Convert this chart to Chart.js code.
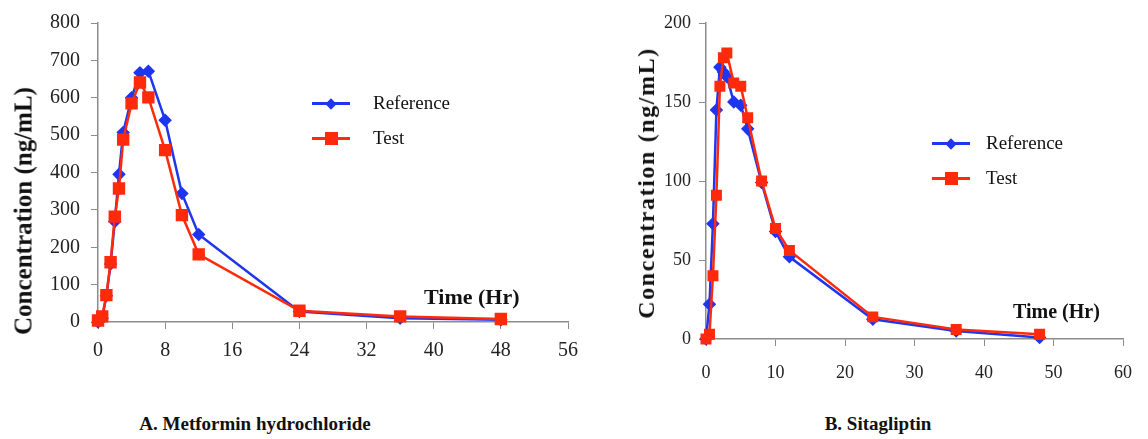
<!DOCTYPE html>
<html>
<head>
<meta charset="utf-8">
<script src="https://cdn.jsdelivr.net/npm/chart.js@4.4.1/dist/chart.umd.min.js"></script>
<style>
  body { margin: 0; background: #fff; font-family: "Liberation Serif", serif; }
  #wrap { position: relative; width: 1148px; height: 439px; overflow: hidden; }
  canvas { position: absolute; top: 0; }
  .lbl { position: absolute; white-space: nowrap; color: #111; }
  .time { font-weight: bold; font-size: 22px; }
  .cap { font-weight: bold; font-size: 19px; transform: translateX(-50%); }
  .ytitle { font-weight: bold; transform: translate(-50%, -50%) rotate(-90deg); line-height: 1; }
  .leg { position: absolute; font-size: 19px; color: #111; }
  .leg .row { position: relative; height: 35px; }
  .leg .line { position: absolute; top: 50%; height: 3px; margin-top: -1.5px; }
  .leg .mk { position: absolute; top: 50%; }
  .leg .txt { position: absolute; top: 50%; transform: translateY(-55%); }
</style>
</head>
<body>
<div id="wrap">
  <canvas id="chartA" width="600" height="375" style="left:0;width:600px;height:375px"></canvas>
  <canvas id="chartB" width="528" height="395" style="left:620px;width:528px;height:395px"></canvas>
  <div class="lbl ytitle" style="left:23px;top:211px;font-size:25px">Concentration (ng/mL)</div>
  <div class="lbl ytitle" style="left:646px;top:183px;font-size:24px;letter-spacing:1.6px">Concentration (ng/mL)</div>
  <div id="legA" class="leg" style="left:312px;top:86px"></div>
  <div id="legB" class="leg" style="left:932px;top:126px"></div>
  <div class="lbl time" style="left:424px;top:284px">Time (Hr)</div>
  <div class="lbl time" style="left:1013px;top:300px;font-size:20px">Time (Hr)</div>
  <div class="lbl cap" style="left:255px;top:413px">A. Metformin hydrochloride</div>
  <div class="lbl cap" style="left:878px;top:413px">B. Sitagliptin</div>
</div>
<script>
// Metformin hydrochloride (ng/mL) vs time (hr)
var metTime = [0, 0.5, 1, 1.5, 2, 2.5, 3, 4, 5, 6, 8, 10, 12, 24, 36, 48];
var metRef  = [0, 10, 70, 155, 269, 395, 507, 600, 667, 671, 540, 344, 234, 28, 10, 6];
var metTest = [4, 15, 72, 160, 282, 357, 488, 585, 641, 601, 460, 286, 181, 30, 15, 8];

// Sitagliptin (ng/mL) vs time (hr)
var sitTime = [0, 0.5, 1, 1.5, 2, 2.5, 3, 4, 5, 6, 8, 10, 12, 24, 36, 48];
var sitRef  = [0, 22, 73, 145, 172, 169, 166, 150, 148, 133, 99, 68, 52, 12.5, 5, 1];
var sitTest = [0, 3, 40, 91, 160, 178, 181, 162, 160, 140, 100, 70, 56, 14, 6, 3];

var blue = '#1f35ee';
var red = '#ff2a0c';
var axisGray = '#8c8c8c';

function pts(xs, ys) {
  return xs.map(function(x, i) { return {x: x, y: ys[i]}; });
}

function makeChart(id, opt) {
  return new Chart(document.getElementById(id), {
    type: 'line',
    data: {
      datasets: [{
        label: 'Reference',
        data: pts(opt.time, opt.ref),
        borderColor: blue, backgroundColor: blue,
        borderWidth: 2.5, pointStyle: 'rectRot', pointRadius: 5,
        tension: 0, order: 2, clip: false
      }, {
        label: 'Test',
        data: pts(opt.time, opt.test),
        borderColor: red, backgroundColor: red,
        borderWidth: 2.5, pointStyle: 'rect', pointRadius: opt.sq,
        tension: 0, order: 1, clip: false
      }]
    },
    options: {
      responsive: false,
      animation: false,
      layout: { padding: opt.pad },
      plugins: { legend: { display: false }, tooltip: { enabled: false } },
      scales: {
        x: {
          type: 'linear', min: 0, max: opt.xMax,
          ticks: { stepSize: opt.xStep, color: '#222', padding: opt.xPad,
                   font: { family: 'Liberation Serif', size: opt.fs } },
          grid: { drawOnChartArea: false, color: axisGray, tickLength: 7 },
          border: { color: axisGray, width: 1.5 },
          afterFit: function(s) { s.height = opt.xH; }
        },
        y: {
          min: 0, max: opt.yMax,
          ticks: { stepSize: opt.yStep, color: '#222', padding: opt.yPad,
                   font: { family: 'Liberation Serif', size: opt.fs } },
          grid: { drawOnChartArea: false, color: axisGray, tickLength: 7 },
          border: { color: axisGray, width: 1.5 },
          afterFit: function(s) { s.width = opt.yW; }
        }
      }
    }
  });
}

makeChart('chartA', {
  time: metTime, ref: metRef, test: metTest,
  xMax: 56, xStep: 8, yMax: 800, yStep: 100,
  fs: 20, sq: 7, xPad: 10, yPad: 11,
  yW: 98, xH: 45, pad: { top: 22, right: 32, bottom: 8, left: 0 }
});

makeChart('chartB', {
  time: sitTime, ref: sitRef, test: sitTest,
  xMax: 60, xStep: 10, yMax: 200, yStep: 50,
  fs: 18, sq: 6, xPad: 16, yPad: 8,
  yW: 86, xH: 50, pad: { top: 23, right: 7, bottom: 6, left: 0 }
});

// legend boxes
function buildLegend(id, txtLeft) {
  var el = document.getElementById(id);
  var items = [
    { name: 'Reference', color: blue, shape: 'diamond' },
    { name: 'Test', color: red, shape: 'square' }
  ];
  items.forEach(function(it) {
    var row = document.createElement('div');
    row.className = 'row';
    var ln = document.createElement('div');
    ln.className = 'line';
    ln.style.left = '0px'; ln.style.width = '38px'; ln.style.background = it.color;
    var mk = document.createElement('div');
    mk.className = 'mk';
    mk.style.background = it.color;
    if (it.shape == 'diamond') {
      mk.style.width = '8px'; mk.style.height = '8px';
      mk.style.left = '15px'; mk.style.marginTop = '-4px';
      mk.style.transform = 'rotate(45deg)';
    } else {
      mk.style.width = '13px'; mk.style.height = '13px';
      mk.style.left = '13px'; mk.style.marginTop = '-6.5px';
    }
    var tx = document.createElement('div');
    tx.className = 'txt';
    tx.style.left = txtLeft + 'px';
    tx.textContent = it.name;
    row.appendChild(ln); row.appendChild(mk); row.appendChild(tx);
    el.appendChild(row);
  });
}
buildLegend('legA', 61);
buildLegend('legB', 54);
</script>
</body>
</html>
